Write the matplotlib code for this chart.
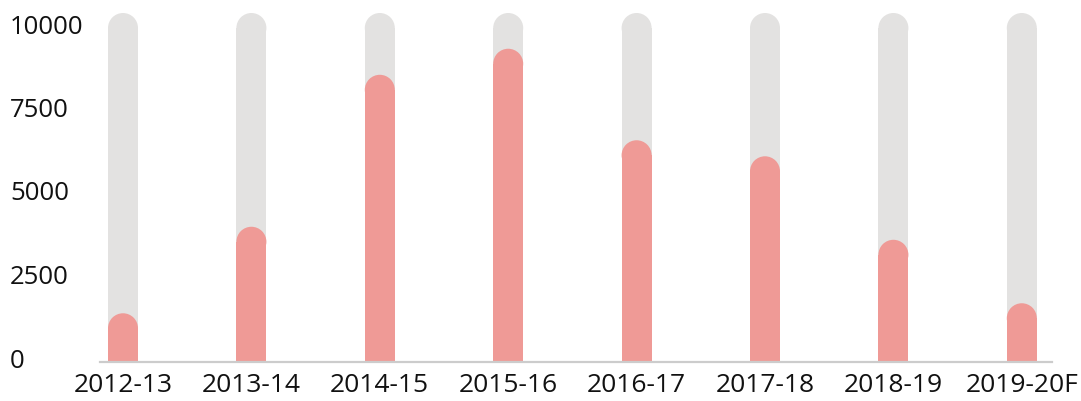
import matplotlib
matplotlib.use("Agg")
import matplotlib.pyplot as plt
import matplotlib.transforms as mtransforms
from matplotlib.patches import Ellipse

categories = ["2012-13", "2013-14", "2014-15", "2015-16", "2016-17", "2017-18", "2018-19", "2019-20F"]
values = [1010, 3600, 8150, 8930, 6190, 5710, 3210, 1310]
background = [10000] * len(categories)
yticks = [0, 2500, 5000, 7500, 10000]

PINK = "#ef9a96"
GREY = "#e3e2e1"

plt.rcParams["font.family"] = ["Open Sans", "DejaVu Sans"]

W, H, DPI = 1081, 401, 100
fig = plt.figure(figsize=(W / DPI, H / DPI), dpi=DPI)
left_px, right_px, bottom_px, top_px = 100, 1052, 362, 28
ax = fig.add_axes([left_px / W, 1 - bottom_px / H, (right_px - left_px) / W, (bottom_px - top_px) / H])

x = list(range(len(categories)))
px_per_unit = 128.4
x0 = -23 / px_per_unit
x1 = x0 + (right_px - left_px) / px_per_unit
ax.set_xlim(x0, x1)
ax.set_ylim(0, 10000)

bar_w = 30 / px_per_unit
px_per_val = (bottom_px - top_px) / 10000
cap_h = 30 / px_per_val

ax.bar(x, background, width=bar_w, color=GREY, zorder=1, clip_on=False)
ax.bar(x, values, width=bar_w, color=PINK, zorder=2, clip_on=False)
for xi, bg, v in zip(x, background, values):
    ax.add_patch(Ellipse((xi, bg), bar_w, cap_h, color=GREY, zorder=1, clip_on=False, lw=0))
    ax.add_patch(Ellipse((xi, v), bar_w, cap_h, color=PINK, zorder=2, clip_on=False, lw=0))

for s in ["top", "right", "left"]:
    ax.spines[s].set_visible(False)
ax.spines["bottom"].set_color("#cccccc")
ax.spines["bottom"].set_linewidth(1.6)
ax.spines["bottom"].set_zorder(3)

ax.set_xticks(x)
ax.set_xticklabels(categories)
ax.set_yticks(yticks)
ax.set_yticklabels([str(t) for t in yticks])
ax.tick_params(axis="both", length=0, labelcolor="#111111")
ax.tick_params(axis="x", pad=8, labelsize=19)
ax.tick_params(axis="y", pad=64.8, labelsize=18.5)
offset = mtransforms.ScaledTranslation(0, 4 / DPI, fig.dpi_scale_trans)
for lab in ax.get_yticklabels():
    lab.set_horizontalalignment("left")
    lab.set_transform(lab.get_transform() + offset)

fig.savefig("out.png", dpi=DPI)
